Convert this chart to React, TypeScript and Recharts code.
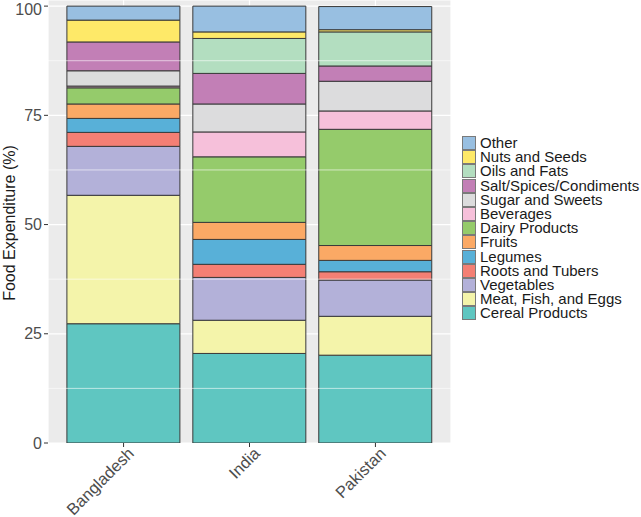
import React from 'react';
import {
  BarChart, Bar, XAxis, YAxis, CartesianGrid, ReferenceLine,
} from 'recharts';

const countries = ['Bangladesh', 'India', 'Pakistan'];

// stacked bottom -> top
const categories = [
  'Cereal Products', 'Meat, Fish, and Eggs', 'Vegetables', 'Roots and Tubers', 'Legumes',
  'Fruits', 'Dairy Products', 'Beverages', 'Sugar and Sweets', 'Salt/Spices/Condiments',
  'Oils and Fats', 'Nuts and Seeds', 'Other',
];

const colors = [
  '#5fc6c1', '#f4f4aa', '#b3b1d9', '#f47f74', '#58b0d8',
  '#fba965', '#95cb6b', '#f6c0da', '#dcdcdd', '#c27fb6',
  '#b3dec0', '#fee968', '#98bfe1',
];

const bangladesh = [27.3, 29.4, 11.2, 3.2, 3.2, 3.3, 3.7, 0.4, 3.5, 6.6, 0.0, 5.0, 3.2];
const india      = [20.5, 7.6, 9.8, 3.0, 5.7, 3.9, 15.0, 5.7, 6.4, 7.0, 8.0, 1.5, 5.9];
const pakistan   = [20.1, 8.9, 8.3, 1.9, 2.6, 3.4, 26.6, 4.2, 6.8, 3.5, 7.8, 0.5, 5.3];

const yTicks = [0, 25, 50, 75, 100];
const minorTicks = [12.5, 37.5, 62.5, 87.5];

const seriesByCountry = [bangladesh, india, pakistan];
const data = countries.map((name, i) => {
  const row: Record<string, any> = { name };
  categories.forEach((c, j) => { row[c] = seriesByCountry[i][j]; });
  return row;
});

const FONT = '"Liberation Sans", Arial, sans-serif';

const XTick = ({ x, y, payload }: any) => (
  <g transform={`translate(${x + 3},${y - 3})`}>
    <text transform="rotate(-45)" textAnchor="end" x={0} y={12} fontSize={16.5} fill="#4d4d4d" fontFamily={FONT}>
      {payload.value}
    </text>
  </g>
);

const LegendBox = () => (
  <div style={{
    position: 'absolute', left: 462, top: 136, fontFamily: FONT, fontSize: 15, color: '#1a1a1a',
  }}>
    {[...categories].reverse().map((c, k) => {
      const idx = categories.length - 1 - k;
      return (
        <div key={c} style={{ display: 'flex', alignItems: 'center', height: 14.2 }}>
          <span style={{
            width: 14, height: 14, boxSizing: 'border-box', background: colors[idx],
            border: '1px solid #7a7a7a', marginRight: 4, flexShrink: 0,
          }} />
          <span style={{ display: 'block', height: 14, lineHeight: '14px', whiteSpace: 'nowrap' }}>{c}</span>
        </div>
      );
    })}
  </div>
);

export default function App() {
  return (
    <div style={{ position: 'absolute', left: 0, top: 0, width: 641, height: 517, background: '#fff' }}>
      <BarChart
        width={641}
        height={517}
        data={data}
        barCategoryGap="5%"
        margin={{ top: 0, right: 190, bottom: 0, left: 0 }}
      >
        <CartesianGrid fill="#ebebeb" stroke="#ffffff" strokeWidth={1.2} horizontal vertical />
        {minorTicks.map((v) => (
          <ReferenceLine key={v} y={v} stroke="#ffffff" strokeWidth={0.6} />
        ))}
        <XAxis
          dataKey="name"
          height={74}
          tick={<XTick />}
          tickSize={4}
          tickLine={{ stroke: '#333' }}
          axisLine={false}
          padding={{ left: 12.6, right: 12.6 }}
          interval={0}
        />
        <YAxis
          width={48}
          domain={[0, 101.4]}
          ticks={yTicks}
          allowDataOverflow
          tickSize={4}
          tickLine={{ stroke: '#333' }}
          axisLine={false}
          tick={{ fontSize: 16, fill: '#4d4d4d', fontFamily: FONT }}
          label={{
            content: () => (
              <text
                x={15}
                y={223}
                transform="rotate(-90, 15, 223)"
                textAnchor="middle"
                fontSize={16}
                fill="#1a1a1a"
                fontFamily={FONT}
              >
                Food Expenditure (%)
              </text>
            ),
          }}
        />
        {categories.map((c, j) => (
          <Bar
            key={c}
            dataKey={c}
            stackId="a"
            fill={colors[j]}
            stroke="#3a3a3a"
            strokeWidth={1}
            isAnimationActive={false}
          />
        ))}
      </BarChart>
      <LegendBox />
    </div>
  );
}
